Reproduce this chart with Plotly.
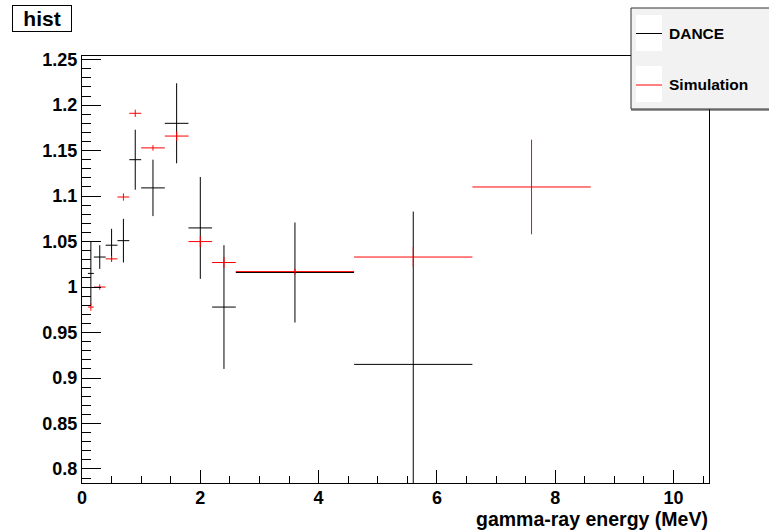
import plotly.graph_objects as go

# Energy bins (MeV)
bin_lo = [0.1, 0.2, 0.4, 0.6, 0.8, 1.0, 1.4, 1.8, 2.2, 2.6, 4.6, 6.6]
bin_hi = [0.2, 0.4, 0.6, 0.8, 1.0, 1.4, 1.8, 2.2, 2.6, 4.6, 6.6, 8.6]

# DANCE measurement (first 11 bins)
dance_y = [1.015, 1.033, 1.046, 1.051, 1.140, 1.109, 1.180, 1.065, 0.978, 1.016, 0.915]
dance_err = [0.035, 0.013, 0.018, 0.024, 0.033, 0.031, 0.044, 0.056, 0.068, 0.055, 0.168]

# Simulation (all 12 bins)
sim_y = [0.978, 1.000, 1.031, 1.099, 1.191, 1.153, 1.166, 1.050, 1.027, 1.017, 1.033, 1.110]
sim_err = [0.004, 0.003, 0.003, 0.004, 0.004, 0.003, 0.005, 0.006, 0.006, 0.003, 0.011, 0.052]

centers = [(a + b) / 2 for a, b in zip(bin_lo, bin_hi)]
halfw = [(b - a) / 2 for a, b in zip(bin_lo, bin_hi)]

FONT = "Liberation Sans, Arial, Helvetica, sans-serif"


def hist_trace(name, y, yerr, color):
    n = len(y)
    return go.Scatter(
        x=centers[:n], y=y, name=name, mode="markers",
        marker=dict(size=0.1, color=color, opacity=0),
        error_x=dict(type="data", array=halfw[:n], symmetric=True,
                     width=0, thickness=1, color=color),
        error_y=dict(type="data", array=yerr, symmetric=True,
                     width=0, thickness=1, color=color),
        showlegend=False, cliponaxis=True,
    )


fig = go.Figure()
fig.add_trace(hist_trace("DANCE", dance_y, dance_err, "black"))
fig.add_trace(hist_trace("Simulation", sim_y, sim_err, "red"))

axis_common = dict(
    showline=True, linecolor="black", linewidth=1, mirror=True,
    showgrid=False, zeroline=False, ticks="inside", tickcolor="black",
    tickwidth=1,
    tickfont=dict(family=FONT, size=18, color="black", weight="bold"),
)

fig.update_xaxes(
    range=[0, 10.6], tick0=0, dtick=2, ticklen=13, ticklabelstandoff=-2,
    minor=dict(dtick=0.5, ticks="inside", ticklen=7, tickcolor="black", tickwidth=1),
    **axis_common,
)
fig.update_yaxes(
    range=[0.7846, 1.254], tick0=0.8, dtick=0.05, ticklen=19,
    minor=dict(dtick=0.01, ticks="inside", ticklen=9, tickcolor="black", tickwidth=1),
    **axis_common,
)

W, H = 769, 530
L, R, T, B = 82, 60, 56, 47
pw, ph = W - L - R, H - T - B


def px(xp):
    return (xp - L) / pw


def py(yp):
    return (H - B - yp) / ph


shapes = []
annotations = []

# legend box
shapes.append(dict(type="rect", xref="paper", yref="paper",
                   x0=px(631), x1=px(775), y0=py(109), y1=py(8),
                   fillcolor="#f2f2f2", line=dict(color="#333333", width=1),
                   layer="above"))
shapes.append(dict(type="line", xref="paper", yref="paper",
                   x0=px(631), x1=px(775), y0=py(110), y1=py(110),
                   line=dict(color="#333333", width=1), layer="above"))
legend_items = [("DANCE", "black", 33.5, 15, 51), ("Simulation", "red", 85, 66, 102)]
for label, color, ly, s0, s1 in legend_items:
    shapes.append(dict(type="rect", xref="paper", yref="paper",
                       x0=px(636), x1=px(662), y0=py(s1), y1=py(s0),
                       fillcolor="white", line=dict(width=0), layer="above"))
    shapes.append(dict(type="line", xref="paper", yref="paper",
                       x0=px(636), x1=px(662), y0=py(ly), y1=py(ly),
                       line=dict(color=color, width=1), layer="above"))
    annotations.append(dict(text=label, xref="paper", yref="paper",
                            x=px(667), y=py(ly), xanchor="left", yanchor="middle",
                            showarrow=False,
                            font=dict(family=FONT, size=15.5, color="black", weight="bold")))

# histogram title box
annotations.append(dict(text="hist", xref="paper", yref="paper",
                        x=px(12), y=py(5), xanchor="left", yanchor="top",
                        showarrow=False, width=56, height=23, borderpad=1,
                        bgcolor="white", bordercolor="black", borderwidth=1,
                        font=dict(family=FONT, size=21, color="black", weight="bold")))

# x axis title, right aligned
annotations.append(dict(text="gamma-ray energy (MeV)", xref="paper", yref="paper",
                        x=px(710), y=py(518.5), xanchor="right", yanchor="middle",
                        showarrow=False,
                        font=dict(family=FONT, size=19.5, color="black", weight="bold")))

fig.update_layout(
    width=W, height=H,
    margin=dict(l=L, r=R, t=T, b=B, pad=0),
    paper_bgcolor="white", plot_bgcolor="white",
    showlegend=False,
    shapes=shapes, annotations=annotations,
)

fig.write_html("out.html")
